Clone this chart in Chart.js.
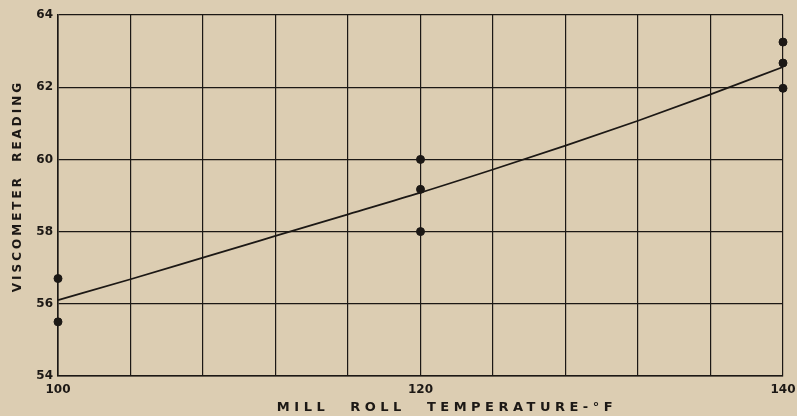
<!DOCTYPE html>
<html>
<head>
<meta charset="utf-8">
<script src="https://cdn.jsdelivr.net/npm/chart.js@4"></script>
<style>
  html, body { margin: 0; padding: 0; background: #dccdb2; }
  #wrap { width: 797px; height: 416px; }
</style>
</head>
<body>
<div id="wrap"><canvas id="c" width="797" height="416"></canvas></div>
<script>
// Observed readings
const tempsAt100 = [100, 100];
const readingsAt100 = [56.7, 55.5];
const tempsAt120 = [120, 120, 120];
const readingsAt120 = [60.0, 59.17, 58.0];
const tempsAt140 = [140, 140, 140];
const readingsAt140 = [63.25, 62.67, 61.97];

// Fitted curve
const curveTemps = [100, 104, 108, 112, 116, 120, 124, 128, 132, 136, 140];
const curveReadings = [56.1, 56.68, 57.28, 57.88, 58.48, 59.08, 59.72, 60.38, 61.07, 61.8, 62.56];

// Axes
const xTitle = 'MILL ROLL TEMPERATURE-°F';
const yTitle = 'VISCOMETER READING';
const xLabeled = [100, 120, 140];

const ink = '#1c1815';
const pts = (xs, ys) => xs.map((x, i) => ({x: x, y: ys[i]}));

const bgPlugin = {
  id: 'bg',
  beforeDraw(chart) {
    const ctx = chart.ctx;
    ctx.save();
    ctx.fillStyle = '#dccdb2';
    ctx.fillRect(0, 0, chart.width, chart.height);
    ctx.restore();
  },
  afterDraw(chart) {
    const ctx = chart.ctx;
    ctx.save();
    ctx.fillStyle = ink;
    ctx.font = 'bold 13px "DejaVu Sans"';
    ctx.letterSpacing = '4.5px';
    ctx.wordSpacing = '12px';
    ctx.textAlign = 'center';
    ctx.textBaseline = 'middle';
    ctx.fillText(xTitle, 447, 408);
    ctx.translate(18, 186);
    ctx.rotate(-Math.PI / 2);
    ctx.font = 'bold 12px "DejaVu Sans"';
    ctx.letterSpacing = '3px';
    ctx.wordSpacing = '6px';
    ctx.fillText(yTitle, 0, 0);
    ctx.restore();
  }
};

new Chart(document.getElementById('c'), {
  type: 'scatter',
  data: {
    datasets: [
      { data: pts(curveTemps, curveReadings), showLine: true, borderColor: ink, borderWidth: 1.8,
        pointRadius: 0, tension: 0.4, cubicInterpolationMode: 'monotone', fill: false },
      { data: pts(tempsAt100, readingsAt100), backgroundColor: ink, borderColor: ink, pointRadius: 4 },
      { data: pts(tempsAt120, readingsAt120), backgroundColor: ink, borderColor: ink, pointRadius: 4 },
      { data: pts(tempsAt140, readingsAt140), backgroundColor: ink, borderColor: ink, pointRadius: 4 }
    ]
  },
  options: {
    responsive: false,
    animation: false,
    clip: false,
    layout: { padding: { left: 0, right: 14, top: 15, bottom: 0 } },
    plugins: { legend: { display: false }, tooltip: { enabled: false } },
    scales: {
      x: {
        type: 'linear', min: 100, max: 140,
        afterFit(s) { s.height = 40; s.paddingRight = 0; s.paddingLeft = 0; },
        ticks: { stepSize: 4, padding: 7, color: ink, font: { family: 'DejaVu Sans', size: 12, weight: 'bold' },
          maxRotation: 0, autoSkip: false,
          callback: (v) => xLabeled.includes(v) ? String(v) : '' },
        grid: { color: ink, lineWidth: 1.2, drawTicks: false },
        border: { color: ink, width: 1.6 }
      },
      y: {
        type: 'linear', min: 54, max: 64,
        afterFit(s) { s.width = 58; s.paddingTop = 0; s.paddingBottom = 0; },
        ticks: { stepSize: 2, padding: 5, color: ink, font: { family: 'DejaVu Sans', size: 12, weight: 'bold' } },
        grid: { color: ink, lineWidth: 1.2, drawTicks: false },
        border: { color: ink, width: 1.6 }
      }
    }
  },
  plugins: [bgPlugin]
});
</script>
</body>
</html>
